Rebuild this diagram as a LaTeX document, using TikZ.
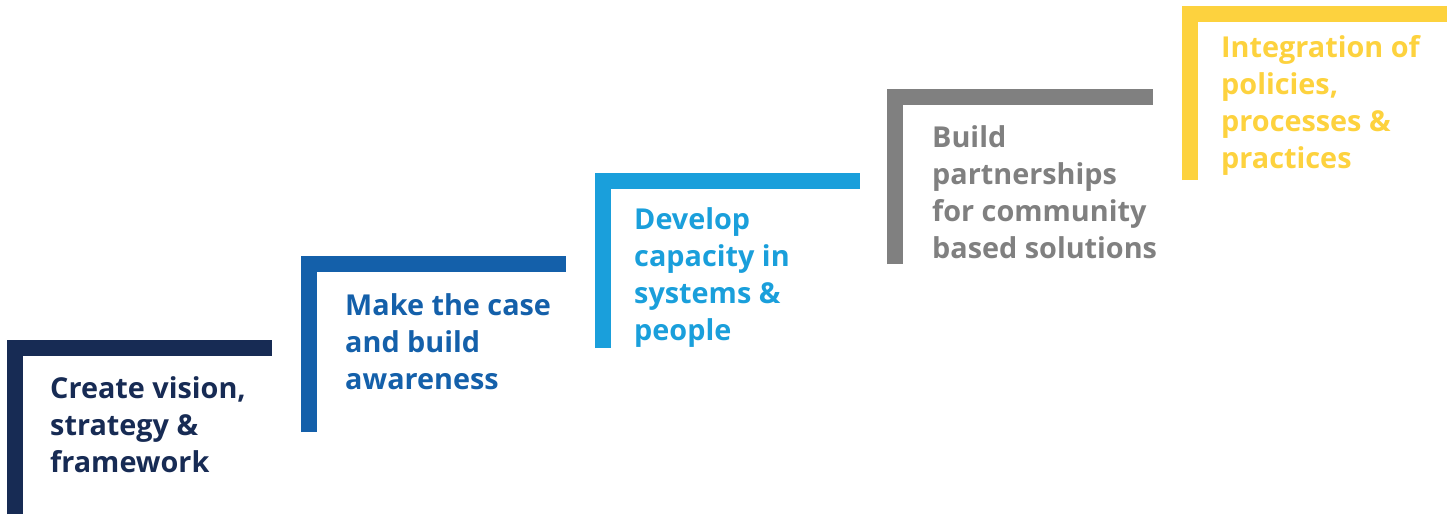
\documentclass[tikz,border=0pt]{standalone}
\usepackage{fontspec}
\setmainfont{Open Sans}
\definecolor{cnavy}{HTML}{172B54}
\definecolor{cblue}{HTML}{1460AA}
\definecolor{clight}{HTML}{1A9FDB}
\definecolor{cgray}{HTML}{808080}
\definecolor{cyellow}{HTML}{FDD23E}
\begin{document}
\begin{tikzpicture}[x=1pt,y=-1pt,
  stepbar/.style={line width=16pt, line join=miter, line cap=butt},
  steptext/.style={anchor=base west, inner sep=0pt, align=left,
    font=\fontsize{28.8}{37}\selectfont\bfseries}]
\useasboundingbox (0,0) rectangle (1453,514);
% step 1
\coordinate (b1) at (15,514); \coordinate (c1) at (15,348); \coordinate (e1) at (272,348);
\draw[stepbar, cnavy] (b1) -- (c1) -- (e1);
\node[steptext, text=cnavy] (t1) at (50,472) {Create vision,\\strategy \&\\framework};
% step 2
\coordinate (b2) at (309,432); \coordinate (c2) at (309,264); \coordinate (e2) at (566,264);
\draw[stepbar, cblue] (b2) -- (c2) -- (e2);
\node[steptext, text=cblue] (t2) at (345,389) {Make the case\\and build\\awareness};
% step 3
\coordinate (b3) at (603,348); \coordinate (c3) at (603,181); \coordinate (e3) at (860,181);
\draw[stepbar, clight] (b3) -- (c3) -- (e3);
\node[steptext, text=clight] (t3) at (634,340) {Develop\\capacity in\\systems \&\\people};
% step 4
\coordinate (b4) at (895,264); \coordinate (c4) at (895,97); \coordinate (e4) at (1153,97);
\draw[stepbar, cgray] (b4) -- (c4) -- (e4);
\node[steptext, text=cgray] (t4) at (932,258) {Build\\partnerships\\for community\\based solutions};
% step 5
\coordinate (b5) at (1190,180); \coordinate (c5) at (1190,14); \coordinate (e5) at (1447,14);
\draw[stepbar, cyellow] (b5) -- (c5) -- (e5);
\node[steptext, text=cyellow] (t5) at (1221,168) {Integration of\\policies,\\processes \&\\practices};
\end{tikzpicture}
\end{document}
